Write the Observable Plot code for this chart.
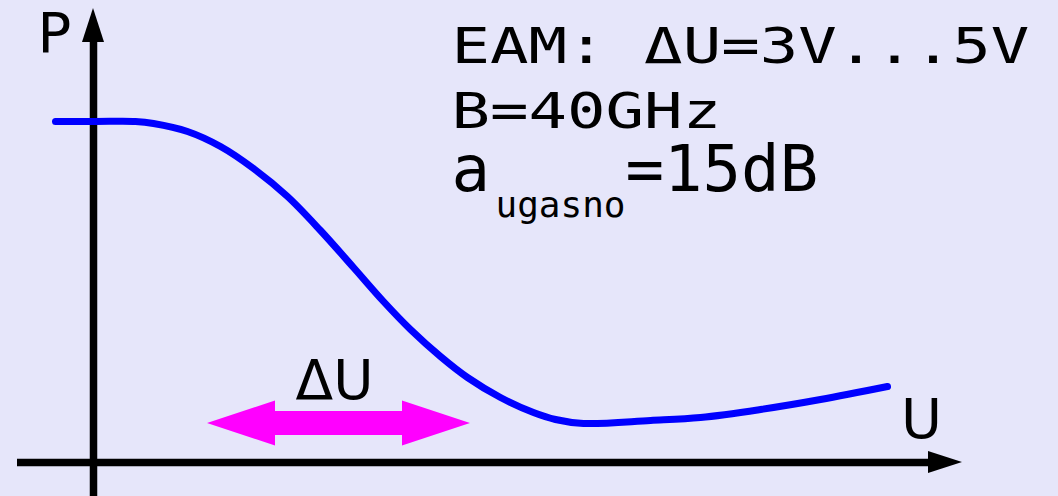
<!DOCTYPE html>
<html><head><meta charset="utf-8">
<script src="https://cdn.jsdelivr.net/npm/d3@7"></script>
<script src="https://cdn.jsdelivr.net/npm/@observablehq/plot@0.6"></script>
<style>html,body{margin:0;padding:0;background:#e6e6fa;overflow:hidden}</style>
</head><body><div id="chart"></div>
<script>
// transfer characteristic P(U) of the EAM
const curveU = [-0.38, 0.02, 0.42, 0.60, 0.94, 1.27, 1.60, 1.94, 2.27, 2.60, 2.90, 3.17, 3.47, 3.74, 4.07, 4.40, 4.62, 4.90, 5.57, 6.07, 6.67, 7.27, 7.94];
const curveP = [3.41, 3.41, 3.41, 3.39, 3.31, 3.16, 2.94, 2.66, 2.32, 1.95, 1.61, 1.33, 1.06, 0.85, 0.65, 0.50, 0.43, 0.39, 0.42, 0.45, 0.53, 0.63, 0.76];
// voltage swing ΔU (double arrow)
const swingU = [1.14, 3.77];
const swingP = 0.39;
// texts
const infoLines = ["EAM: ΔU=3V...5V", "B=40GHz"];
const attenMain = "a";
const attenSub = "ugasno";
const attenValue = "=15dB";
const axisNames = ["P", "U"];
const swingLabel = "ΔU";

const curve = curveU.map((u, i) => ({u, p: curveP[i]}));

// double arrow polygon built from the swing range
const headLen = 0.68, headHalf = 0.225, shaftHalf = 0.12;
const [s0, s1] = swingU;
const arrowPoly = [
  {u: s0, lo: swingP, hi: swingP},
  {u: s0 + headLen, lo: swingP - headHalf, hi: swingP + headHalf},
  {u: s0 + headLen, lo: swingP - shaftHalf, hi: swingP + shaftHalf},
  {u: s1 - headLen, lo: swingP - shaftHalf, hi: swingP + shaftHalf},
  {u: s1 - headLen, lo: swingP - headHalf, hi: swingP + headHalf},
  {u: s1, lo: swingP, hi: swingP}
];

// axes (with arrowheads)
const uAxis = [-0.76, 8.35, 8.69];
const pAxis = [-0.34, 4.20, 4.54];
const ah = 0.11;
const uHead = [{u: uAxis[1], lo: -ah, hi: ah}, {u: uAxis[2], lo: 0, hi: 0}];
const pHead = [{p: pAxis[1], lo: -ah, hi: ah}, {p: pAxis[2], lo: 0, hi: 0}];

const mono = "DejaVu Sans Mono";
const sans = "DejaVu Sans";

const chart = Plot.plot({
  width: 1058,
  height: 496,
  margin: 0,
  style: {background: "#e6e6fa", overflow: "visible"},
  x: {domain: [-0.93, 9.65], axis: null},
  y: {domain: [-0.34, 4.62], axis: null},
  marks: [
    Plot.ruleY([0], {x1: uAxis[0], x2: uAxis[1], stroke: "black", strokeWidth: 7.5}),
    Plot.ruleX([0], {y1: pAxis[0], y2: pAxis[1], stroke: "black", strokeWidth: 7.5}),
    Plot.areaY(uHead, {x: "u", y1: "lo", y2: "hi", fill: "black"}),
    Plot.areaX(pHead, {y: "p", x1: "lo", x2: "hi", fill: "black"}),
    Plot.line(curve, {x: "u", y: "p", stroke: "#0000ff", strokeWidth: 7, curve: "catmull-rom"}),
    Plot.areaY(arrowPoly, {x: "u", y1: "lo", y2: "hi", fill: "#ff00ff"}),
    Plot.text([swingLabel], {x: 2.41, y: 0.64, text: d => d, fontFamily: sans, fontSize: 55, textAnchor: "middle", lineAnchor: "bottom", fill: "black"}),
    Plot.text([axisNames[0]], {x: -0.39, y: 4.11, text: d => d, fontFamily: sans, fontSize: 56, textAnchor: "middle", lineAnchor: "bottom", fill: "black"}),
    Plot.text([axisNames[1]], {x: 8.28, y: 0.25, text: d => d, fontFamily: sans, fontSize: 56, textAnchor: "middle", lineAnchor: "bottom", fill: "black"}),
    Plot.text([infoLines[0]], {x: 3.58, y: 4.00, text: d => d, fontFamily: mono, fontSize: 64, textAnchor: "start", lineAnchor: "bottom", fill: "black"}),
    Plot.text([infoLines[1]], {x: 3.58, y: 3.35, text: d => d, fontFamily: mono, fontSize: 64, textAnchor: "start", lineAnchor: "bottom", fill: "black"}),
    Plot.text([attenMain], {x: 3.58, y: 2.72, text: d => d, fontFamily: mono, fontSize: 64, textAnchor: "start", lineAnchor: "bottom", fill: "black"}),
    Plot.text([attenSub], {x: 4.02, y: 2.46, text: d => d, fontFamily: mono, fontSize: 36, textAnchor: "start", lineAnchor: "bottom", fill: "black"}),
    Plot.text([attenValue], {x: 5.32, y: 2.72, text: d => d, fontFamily: mono, fontSize: 64, textAnchor: "start", lineAnchor: "bottom", fill: "black"})
  ]
});

// the first two info lines are vertically compressed in the original
d3.select(chart).selectAll("text")
  .filter(function () { return infoLines.includes(this.textContent); })
  .attr("transform", function () { return (this.getAttribute("transform") || "") + " scale(1,0.786)"; });

document.getElementById("chart").appendChild(chart);
</script>
</body></html>
